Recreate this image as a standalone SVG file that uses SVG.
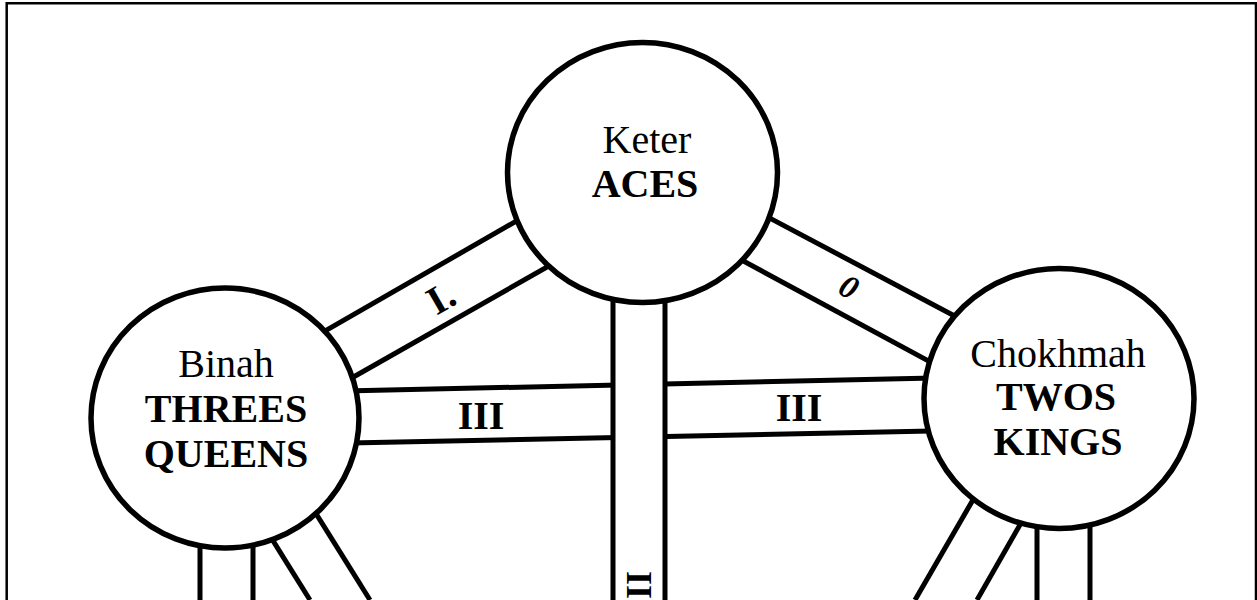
<svg xmlns="http://www.w3.org/2000/svg" width="1257" height="600" viewBox="0 0 1257 600">
  <style>
    .ln{stroke:#000;stroke-width:5;fill:none;stroke-linecap:butt}
    .node ellipse{fill:#fff;stroke:#000;stroke-width:5.5}
    .t{font-family:"Liberation Serif","Times New Roman",serif;font-size:40px;text-anchor:middle;fill:#000}
    .b{font-weight:bold}
  </style>
  <rect x="0" y="0" width="1257" height="600" fill="#fff"/>
  <path d="M6.7,610 V3.3 H1256 V610" fill="none" stroke="#000" stroke-width="2.5"/>
  <g id="connectors">
    <!-- I. Binah-Keter -->
    <line class="ln" x1="300" y1="345.4" x2="560" y2="195.9"/>
    <line class="ln" x1="320" y1="396" x2="580" y2="248.3"/>
    <text class="t b" transform="translate(441,298) rotate(-30)" y="13">I.</text>
    <!-- 0 Keter-Chokhmah -->
    <line class="ln" x1="720" y1="191.7" x2="990" y2="334.8"/>
    <line class="ln" x1="700" y1="237.6" x2="970" y2="383.4"/>
    <text class="t b" style="font-style:italic;font-size:33px" transform="translate(849,287) rotate(28)" y="11">0</text>
    <!-- III Binah-Chokhmah -->
    <line class="ln" x1="300" y1="392" x2="980" y2="377"/>
    <line class="ln" x1="300" y1="444" x2="980" y2="430"/>
    <text class="t b" x="481" y="429">III</text>
    <text class="t b" x="799" y="421">III</text>
    <!-- II Keter pillar -->
    <rect x="613" y="250" width="52" height="360" fill="#fff"/>
    <line class="ln" x1="613" y1="250" x2="613" y2="610"/>
    <line class="ln" x1="665" y1="250" x2="665" y2="610"/>
    <text class="t b" style="font-size:36px" transform="translate(627,585) rotate(90)">II</text>
    <!-- Binah lower paths -->
    <line class="ln" x1="200" y1="480" x2="200" y2="610"/>
    <line class="ln" x1="253" y1="480" x2="253" y2="610"/>
    <line class="ln" x1="228.9" y1="470" x2="310" y2="600"/>
    <line class="ln" x1="282.5" y1="460" x2="370" y2="600"/>
    <!-- Chokhmah lower paths -->
    <line class="ln" x1="1037" y1="450" x2="1037" y2="610"/>
    <line class="ln" x1="1090" y1="450" x2="1090" y2="610"/>
    <line class="ln" x1="1007.6" y1="440" x2="915" y2="600"/>
    <line class="ln" x1="1057" y1="460" x2="977" y2="600"/>
  </g>
  <g id="keter" class="node">
    <ellipse cx="642.5" cy="172.5" rx="135" ry="130"/>
    <text class="t" x="647" y="153">Keter</text>
    <text class="t b" x="645" y="197">ACES</text>
  </g>
  <g id="binah" class="node">
    <ellipse cx="225" cy="418" rx="134" ry="130"/>
    <text class="t" x="226" y="377">Binah</text>
    <text class="t b" x="226" y="422">THREES</text>
    <text class="t b" x="226" y="467">QUEENS</text>
  </g>
  <g id="chokhmah" class="node">
    <ellipse cx="1059" cy="398.5" rx="135" ry="130"/>
    <text class="t" x="1058" y="367">Chokhmah</text>
    <text class="t b" x="1056" y="410">TWOS</text>
    <text class="t b" x="1058" y="455">KINGS</text>
  </g>
</svg>
